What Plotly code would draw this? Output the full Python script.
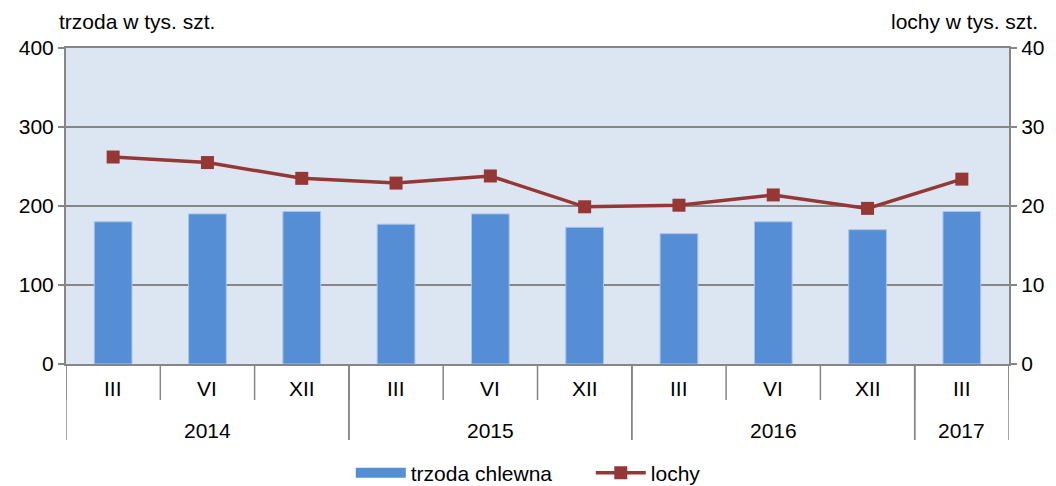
import plotly.graph_objects as go

years = ["2014", "2014", "2014", "2015", "2015", "2015", "2016", "2016", "2016", "2017"]
months = ["III", "VI", "XII", "III", "VI", "XII", "III", "VI", "XII", "III"]
trzoda = [180, 190, 193, 177, 190, 173, 165, 180, 170, 193]
lochy = [26.2, 25.5, 23.5, 22.9, 23.8, 19.9, 20.1, 21.4, 19.7, 23.4]

FS = 21
font = dict(family="Liberation Sans, Arial, sans-serif", size=FS, color="#000000")
GRAY = "#868686"
BLUE = "#558ED5"
RED = "#953735"

idx = list(range(len(months)))

fig = go.Figure()
fig.add_trace(go.Bar(
    x=idx, y=trzoda, name="trzoda chlewna", showlegend=False,
    marker=dict(color=BLUE, line=dict(color="#A9C4EB", width=1)),
    width=0.4,
))
# legend-only swatch for the bars (wide rectangle, like the reference)
fig.add_trace(go.Scatter(
    x=[None], y=[None], name="trzoda chlewna", mode="lines",
    line=dict(color=BLUE, width=15),
))
fig.add_trace(go.Scatter(
    x=idx, y=lochy, name="lochy", yaxis="y2",
    mode="lines+markers",
    line=dict(color=RED, width=3.5),
    marker=dict(symbol="square", size=13, color=RED),
))

H_PLOT = 316.0
def py(px_below_axis):
    return -px_below_axis / H_PLOT

shapes = []
annotations = []
for i in range(len(months) + 1):
    shapes.append(dict(type="line", xref="x", yref="paper", x0=i - 0.5, x1=i - 0.5,
                       y0=0, y1=py(36), line=dict(color=GRAY, width=1.5)))
for i, m in enumerate(months):
    annotations.append(dict(text=m, xref="x", yref="paper", x=i, y=py(24),
                            xanchor="center", yanchor="middle", showarrow=False))
groups = []
for i, y in enumerate(years):
    if groups and groups[-1][0] == y:
        groups[-1][2] = i
    else:
        groups.append([y, i, i])
for y, a, b in groups:
    for xb in (a - 0.5, b + 0.5):
        shapes.append(dict(type="line", xref="x", yref="paper", x0=xb, x1=xb,
                           y0=0, y1=py(76), line=dict(color=GRAY, width=1.5)))
    annotations.append(dict(text=y, xref="x", yref="paper", x=(a + b) / 2, y=py(66),
                            xanchor="center", yanchor="middle", showarrow=False))

annotations += [
    dict(text="trzoda w tys. szt.", xref="paper", yref="paper", x=-0.0095, y=1.085,
         xanchor="left", yanchor="middle", showarrow=False),
    dict(text="lochy w tys. szt.", xref="paper", yref="paper", x=1.033, y=1.085,
         xanchor="right", yanchor="middle", showarrow=False),
]

fig.update_layout(
    width=1056, height=486,
    margin=dict(l=58, r=55, t=40, b=130),
    paper_bgcolor="white",
    plot_bgcolor="#DCE6F2",
    font=font,
    showlegend=True,
    legend=dict(orientation="h", xref="paper", x=0.302, xanchor="left",
                yref="container", y=0.043, yanchor="middle",
                font=dict(size=FS), traceorder="normal", itemwidth=50,
                entrywidth=175, bgcolor="rgba(0,0,0,0)"),
    xaxis=dict(
        range=[-0.5, len(months) - 0.5],
        showticklabels=False, ticks="", showgrid=False, zeroline=False,
        showline=True, mirror=True, linecolor=GRAY, linewidth=2,
        automargin=False,
    ),
    yaxis=dict(
        range=[0, 400], dtick=100,
        showgrid=True, gridcolor=GRAY, gridwidth=2,
        showline=True, linecolor=GRAY, linewidth=2,
        ticks="outside", tickcolor=GRAY, ticklen=6, tickwidth=2,
        zeroline=False, automargin=False,
    ),
    yaxis2=dict(
        range=[0, 40], dtick=10, overlaying="y", side="right",
        showgrid=False,
        showline=True, linecolor=GRAY, linewidth=2,
        ticks="outside", tickcolor=GRAY, ticklen=6, tickwidth=2,
        zeroline=False, automargin=False,
    ),
    shapes=shapes,
    annotations=annotations,
)

fig.write_html("out.html")
